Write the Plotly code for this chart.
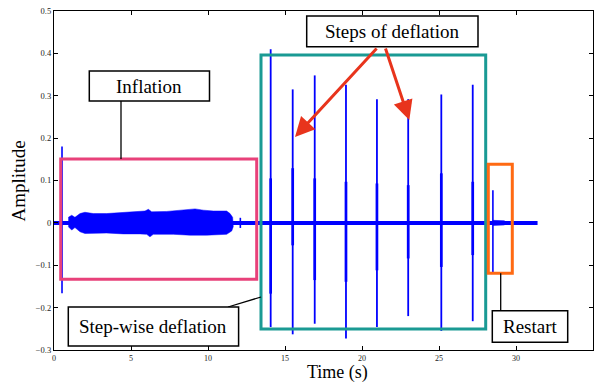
import plotly.graph_objects as go

# ---------------- data ----------------
baseline_t = [0.0, 31.4]
baseline_a = [0.0, 0.0]

# inflation envelope (upper / lower)
infl_up_t = [0.93, 1.15, 1.36, 1.69, 2.01, 2.55, 3.42, 4.5, 5.37, 5.91, 6.13, 6.34,
             7.32, 8.18, 8.83, 9.16, 9.7, 10.35, 11.21, 11.43, 11.6]
infl_up_a = [0.013, 0.018, 0.013, 0.022, 0.025, 0.022, 0.022, 0.024, 0.027, 0.028, 0.032, 0.026,
             0.027, 0.030, 0.032, 0.033, 0.030, 0.028, 0.028, 0.022, 0.013]
infl_lo_t = [0.93, 1.15, 1.36, 1.69, 2.01, 3.42, 4.5, 5.58, 6.02, 6.23, 6.45, 7.75,
             8.83, 9.91, 11.21, 11.54, 11.64]
infl_lo_a = [-0.009, -0.017, -0.011, -0.021, -0.025, -0.024, -0.026, -0.026, -0.027, -0.033,
             -0.027, -0.027, -0.029, -0.029, -0.027, -0.019, -0.009]

# deflation steps: spike time, full extent and inner (dense) extent
spike_t = [14.07, 15.5, 16.93, 18.96, 20.97, 23.0, 25.15, 27.19]
spike_max = [0.41, 0.315, 0.348, 0.326, 0.292, 0.292, 0.303, 0.326]
spike_min = [-0.246, -0.263, -0.238, -0.273, -0.246, -0.22, -0.255, -0.232]
inner_max = [0.105, 0.129, 0.105, 0.097, 0.093, 0.089, 0.117, 0.097]
inner_min = [-0.167, -0.053, -0.135, -0.139, -0.112, -0.084, -0.104, -0.076]

# other isolated events (start click, end of inflation, restart)
event_t = [0.52, 12.1, 28.5]
event_max = [0.18, 0.012, 0.077]
event_min = [-0.166, -0.012, -0.116]

restart_tail_t = [28.5, 29.25]
restart_tail_a = [0.006, 0.005]

x_ticks = [0, 5, 10, 15, 20, 25, 30, 35]
y_ticks = [-0.3, -0.2, -0.1, 0, 0.1, 0.2, 0.3, 0.4, 0.5]
y_ticktext = ["\u22120.3", "\u22120.2", "\u22120.1", "0", "0.1", "0.2", "0.3", "0.4", "0.5"]

BLUE = "#0000ff"
FONT = "Liberation Serif"

# ---------------- figure ----------------
fig = go.Figure()

# inflation envelope
env_x = infl_up_t + infl_lo_t[::-1]
env_y = infl_up_a + infl_lo_a[::-1]
fig.add_trace(go.Scatter(x=env_x, y=env_y, fill="toself", fillcolor=BLUE,
                         line=dict(color=BLUE, width=0.5), mode="lines", hoverinfo="skip"))

# restart tail
fig.add_trace(go.Scatter(x=restart_tail_t + restart_tail_t[::-1],
                         y=restart_tail_a + [-v for v in restart_tail_a[::-1]],
                         fill="toself", fillcolor=BLUE, line=dict(color=BLUE, width=0.5),
                         mode="lines", hoverinfo="skip"))

# baseline
fig.add_trace(go.Scatter(x=baseline_t, y=baseline_a, mode="lines",
                         line=dict(color=BLUE, width=4), hoverinfo="skip"))

def segs(ts, lo, hi):
    xs, ys = [], []
    for t, a, b in zip(ts, lo, hi):
        xs += [t, t, None]
        ys += [a, b, None]
    return xs, ys

sx, sy = segs(spike_t, spike_min, spike_max)
fig.add_trace(go.Scatter(x=sx, y=sy, mode="lines", line=dict(color=BLUE, width=1.8),
                         hoverinfo="skip"))
ix, iy = segs(spike_t, inner_min, inner_max)
fig.add_trace(go.Scatter(x=ix, y=iy, mode="lines", line=dict(color=BLUE, width=2.7),
                         hoverinfo="skip"))
ex, ey = segs(event_t, event_min, event_max)
fig.add_trace(go.Scatter(x=ex, y=ey, mode="lines", line=dict(color=BLUE, width=1.6),
                         hoverinfo="skip"))

# ---------------- annotation helpers (pixel -> paper) ----------------
L, R, T, B = 54, 593, 11, 350
def px(p):
    return (p - L) / (R - L)
def py(p):
    return (B - p) / (B - T)

shapes = []
def rect(x0, y0, x1, y1, color, width, fill=None):
    shapes.append(dict(type="rect", xref="paper", yref="paper",
                       x0=px(x0), x1=px(x1), y0=py(y1), y1=py(y0),
                       line=dict(color=color, width=width),
                       fillcolor=fill if fill else "rgba(0,0,0,0)", layer="above"))
def line(x0, y0, x1, y1, color="black", width=1.3):
    shapes.append(dict(type="line", xref="paper", yref="paper",
                       x0=px(x0), x1=px(x1), y0=py(y0), y1=py(y1),
                       line=dict(color=color, width=width), layer="above"))

# coloured region boxes
rect(60.7, 159, 256.7, 279.3, "#e8417a", 3)
rect(261, 55, 485.7, 329, "#1a9a94", 3)
rect(488.3, 164.3, 512.3, 273.3, "#ff6a13", 3)

# connectors
line(121, 101, 121, 159)
line(228, 307, 261, 297)
line(500.7, 273.3, 500.7, 310.7)

# label boxes
labels = [
    ("Inflation", 89.3, 71, 209.5, 101),
    ("Steps of deflation", 306.7, 16, 478, 46.7),
    ("Step-wise deflation", 68.3, 307, 238.6, 346),
    ("Restart", 492.3, 310.7, 567.7, 342.3),
]
annotations = []
for txt, x0, y0, x1, y1 in labels:
    rect(x0, y0, x1, y1, "black", 1.5, fill="white")
    annotations.append(dict(text=txt, xref="paper", yref="paper",
                            x=px((x0 + x1) / 2), y=py((y0 + y1) / 2),
                            xanchor="center", yanchor="middle", showarrow=False,
                            font=dict(family=FONT, size=19, color="black")))

# red arrows
for (tx, ty), (hx, hy) in [((378, 47), (295, 137)), ((385, 47), (409.3, 120))]:
    annotations.append(dict(text="", xref="paper", yref="paper",
                            x=px(hx), y=py(hy), ax=tx - hx, ay=ty - hy,
                            axref="pixel", ayref="pixel",
                            showarrow=True, arrowhead=2, arrowsize=1.3,
                            arrowwidth=3, arrowcolor="#e8341c"))

# axis titles
annotations.append(dict(text="Time (s)", xref="paper", yref="paper",
                        x=px(337), y=py(372), xanchor="center", yanchor="middle",
                        borderpad=0,
                        showarrow=False, font=dict(family=FONT, size=18, color="black")))
annotations.append(dict(text="Amplitude", xref="paper", yref="paper",
                        x=px(18), y=py(181.5), xanchor="center", yanchor="middle",
                        textangle=-90, showarrow=False,
                        font=dict(family=FONT, size=19, color="black")))

fig.update_layout(
    width=594, height=382,
    margin=dict(l=L, r=594 - R, t=T, b=382 - B, autoexpand=False),
    paper_bgcolor="white", plot_bgcolor="white",
    showlegend=False,
    shapes=shapes, annotations=annotations,
    font=dict(family=FONT, color="black"),
)
fig.update_xaxes(range=[0, 35], tickvals=x_ticks, ticks="inside", ticklen=4,
                 showline=True, linecolor="black", linewidth=1.3, mirror="ticks",
                 tickcolor="black", showgrid=False, zeroline=False,
                 tickfont=dict(family=FONT, size=8, color="#222"), automargin=False,
                 ticklabelstandoff=0)
fig.update_yaxes(range=[-0.3, 0.5], tickvals=y_ticks, ticktext=y_ticktext,
                 ticks="inside", ticklen=4,
                 showline=True, linecolor="black", linewidth=1.3, mirror="ticks",
                 tickcolor="black", showgrid=False, zeroline=False,
                 tickfont=dict(family=FONT, size=8.5, color="#222"), automargin=False)

fig.write_html("out.html")
